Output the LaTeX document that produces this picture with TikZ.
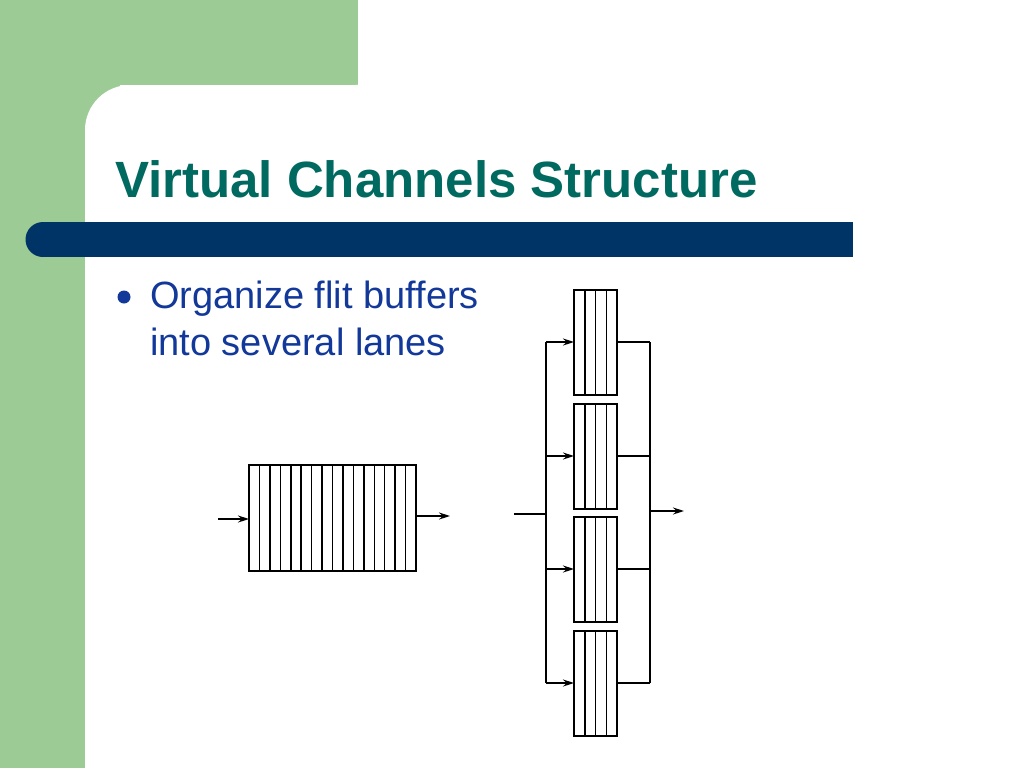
\documentclass[tikz,border=0pt]{standalone}
\usepackage{fontspec}
\setmainfont{Liberation Sans}
\usetikzlibrary{arrows.meta}
\definecolor{bggreen}{HTML}{9DCB96}
\definecolor{titlec}{HTML}{006A60}
\definecolor{barc}{HTML}{003366}
\definecolor{txtc}{HTML}{12389A}
\begin{document}
\begin{tikzpicture}[x=1pt,y=-1pt,
  wire/.style={line width=1.4pt},
  arr/.style={wire,-{Stealth[length=11pt,width=7pt]}}]
\useasboundingbox (0,0) rectangle (1024,768);
\fill[bggreen] (0,0) rectangle (358,768);
\fill[white,rounded corners=45pt] (85,768) -- (85,85) -- (400,85) [sharp corners] -- (400,85);
\fill[white] (358,0) rectangle (1024,768);
\fill[white] (120,85) rectangle (358,768);
\fill[white] (85,130) rectangle (130,768);
\fill[barc] (43,222) -- (853,222) -- (853,257) -- (43,257) -- cycle;
\fill[barc] (43,239.5) circle (17.5);
\node[anchor=base west,text=titlec,font=\bfseries\fontsize{51}{56}\selectfont,inner sep=0] (title) at (115,197) {Virtual Channels Structure};
\fill[txtc] (124,297) circle (6.5) coordinate (dot);
\node[anchor=base west,text=txtc,font=\fontsize{38}{45}\selectfont,inner sep=0] (bt1) at (150,308) {Organize flit buffers};
\node[anchor=base west,text=txtc,font=\fontsize{38}{45}\selectfont,inner sep=0] (bt2) at (150,355) {into several lanes};
% left single buffer
\draw[line width=2pt] (249,465) rectangle (416,571);
\foreach \i in {1,...,15} \draw[line width=1.5pt] ({249+\i*167/16},465) -- ({249+\i*167/16},571);
\coordinate (lin) at (218,519); \coordinate (lb) at (249,519);
\coordinate (lo) at (416,516); \coordinate (lout) at (450,516);
\draw[arr] (lin) -- (lb);
\draw[arr] (lo) -- (lout);
% right lanes
\foreach \t/\n in {290/a,404/b,517/c,631/d}{
  \draw[line width=2pt] (574,\t) rectangle (617,\t+105);
  \foreach \k in {1,2,3} \draw[line width=1.5pt] ({574+\k*43/4},\t) -- ({574+\k*43/4},\t+105);
  \coordinate (in\n) at (574,\t+52);
  \coordinate (out\n) at (617,\t+52);
  \coordinate (bl\n) at (546,\t+52);
  \coordinate (br\n) at (650,\t+52);
  \draw[arr] (bl\n) -- (in\n);
  \draw[wire] (out\n) -- (br\n);
}
\draw[wire] (bla) -- (bld);
\draw[wire] (bra) -- (brd);
\coordinate (rin) at (514,514); \coordinate (rbus) at (546,514);
\coordinate (rbo) at (650,511); \coordinate (rout) at (684,511);
\draw[wire] (rin) -- (rbus);
\draw[arr] (rbo) -- (rout);
\end{tikzpicture}
\end{document}
